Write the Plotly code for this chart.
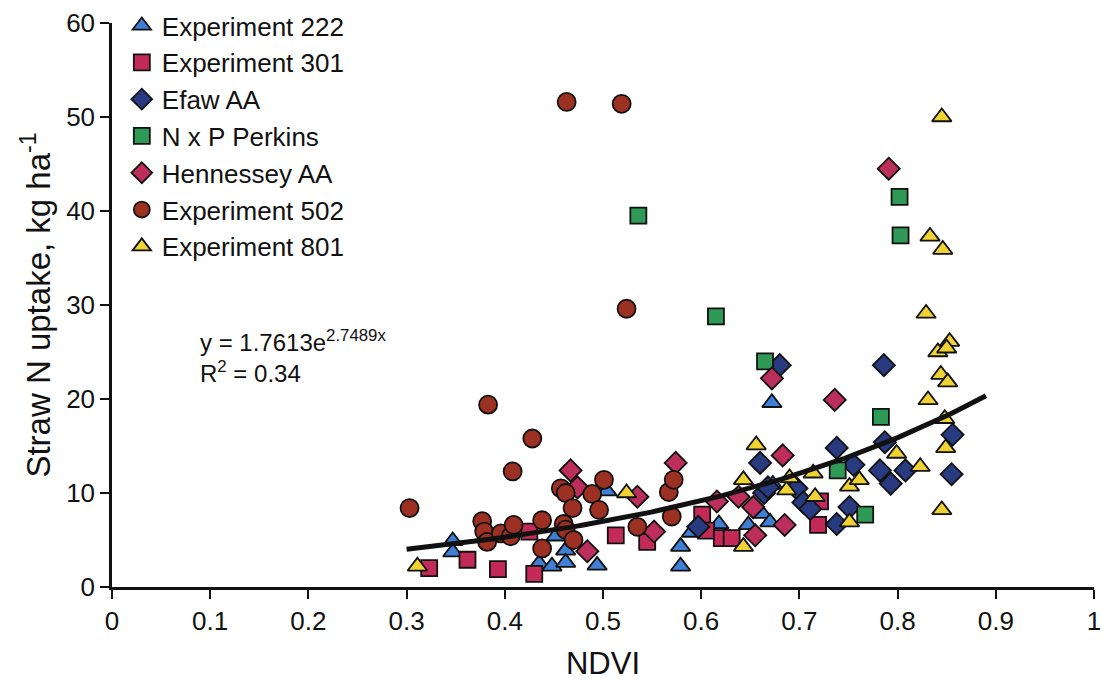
import numpy as np
import plotly.graph_objects as go

# NDVI vs straw N uptake (kg/ha) for each experiment
exp222_x = [0.347, 0.347, 0.435, 0.448, 0.452, 0.462, 0.462, 0.494, 0.504, 0.579, 0.579,
            0.590, 0.618, 0.648, 0.662, 0.670, 0.672, 0.673]
exp222_y = [4.9, 3.7, 2.5, 2.2, 5.4, 3.9, 2.6, 2.3, 10.2, 4.3, 2.2,
            5.8, 6.7, 6.6, 7.8, 6.9, 19.6, 10.9]

exp301_x = [0.323, 0.362, 0.393, 0.425, 0.430, 0.513, 0.545, 0.601, 0.605, 0.621, 0.631,
            0.719, 0.721]
exp301_y = [2.0, 2.9, 1.9, 5.9, 1.4, 5.5, 4.8, 7.7, 6.0, 5.2, 5.2,
            6.6, 9.1]

efaw_x = [0.597, 0.660, 0.664, 0.668, 0.680, 0.697, 0.704, 0.711, 0.738, 0.738, 0.751,
          0.755, 0.782, 0.786, 0.787, 0.793, 0.808, 0.855, 0.856]
efaw_y = [6.4, 13.2, 10.0, 10.6, 23.6, 10.5, 9.0, 8.3, 14.8, 6.7, 8.5,
          13.0, 12.4, 23.6, 15.4, 11.0, 12.4, 12.0, 16.2]

nxp_x = [0.536, 0.615, 0.665, 0.739, 0.767, 0.783, 0.802, 0.803]
nxp_y = [39.5, 28.8, 24.0, 12.4, 7.7, 18.1, 41.5, 37.4]

henn_x = [0.467, 0.474, 0.484, 0.535, 0.552, 0.574, 0.616, 0.638, 0.653, 0.655, 0.672,
          0.683, 0.685, 0.736, 0.791]
henn_y = [12.4, 10.6, 3.8, 9.6, 5.9, 13.2, 9.1, 9.6, 8.5, 5.5, 22.2,
          14.0, 6.6, 19.9, 44.5]

exp502_x = [0.303, 0.377, 0.379, 0.382, 0.383, 0.396, 0.406, 0.408, 0.409, 0.428, 0.438,
            0.438, 0.457, 0.462, 0.460, 0.462, 0.469, 0.470, 0.489, 0.496, 0.501, 0.463,
            0.519, 0.524, 0.535, 0.567, 0.572, 0.570]
exp502_y = [8.4, 7.0, 5.9, 4.8, 19.4, 5.7, 5.4, 12.3, 6.6, 15.8, 7.1,
            4.1, 10.5, 10.0, 6.7, 6.1, 8.4, 5.0, 9.9, 8.2, 11.4, 51.6,
            51.4, 29.6, 6.4, 10.1, 11.4, 7.5]

exp801_x = [0.311, 0.524, 0.643, 0.643, 0.656, 0.687, 0.690, 0.714, 0.716, 0.751, 0.751,
            0.761, 0.799, 0.823, 0.831, 0.829, 0.833, 0.846, 0.845, 0.853, 0.841, 0.850,
            0.844, 0.851, 0.848, 0.849, 0.845]
exp801_y = [2.2, 10.0, 4.3, 11.4, 15.1, 10.3, 11.6, 12.1, 9.6, 6.9, 10.7,
            11.4, 14.2, 12.8, 19.9, 29.1, 37.3, 35.9, 50.0, 26.1, 25.0, 25.4,
            22.6, 21.8, 17.9, 14.8, 8.2]

# exponential fit y = a * exp(b * NDVI)
fit_a = 1.7613
fit_b = 2.7489
fit_r2 = 0.34
fit_range = (0.30, 0.89)

x_ticks = [0, 0.1, 0.2, 0.3, 0.4, 0.5, 0.6, 0.7, 0.8, 0.9, 1]
x_tick_text = ["0", "0.1", "0.2", "0.3", "0.4", "0.5", "0.6", "0.7", "0.8", "0.9", "1"]
y_ticks = [0, 10, 20, 30, 40, 50, 60]

series = [
    ("Experiment 222", exp222_x, exp222_y, "triangle-up", "#3f7fd6", 17),
    ("Experiment 301", exp301_x, exp301_y, "square", "#c42a58", 16),
    ("Efaw AA", efaw_x, efaw_y, "diamond", "#283a80", 17),
    ("N x P Perkins", nxp_x, nxp_y, "square", "#2f9a55", 16),
    ("Hennessey AA", henn_x, henn_y, "diamond", "#bc2f5c", 17),
    ("Experiment 502", exp502_x, exp502_y, "circle", "#9c3022", 18),
    ("Experiment 801", exp801_x, exp801_y, "triangle-up", "#f0d232", 17),
]

FONT = "Liberation Sans, Arial, sans-serif"

fig = go.Figure()

for i, (name, xs, ys, sym, col, size) in enumerate(series):
    fig.add_trace(go.Scatter(
        x=xs, y=ys, mode="markers", name=name, legendgroup=f"g{i}",
        marker=dict(symbol=sym, color=col, size=size,
                    line=dict(color="#111111", width=1.8)),
    ))

fx = np.linspace(fit_range[0], fit_range[1], 120)
fy = fit_a * np.exp(fit_b * fx)
fig.add_trace(go.Scatter(x=fx, y=fy, mode="lines", showlegend=False,
                         line=dict(color="#111111", width=5)))

fig.add_annotation(
    x=0.088, y=24.5, xref="x", yref="y", xanchor="left", yanchor="middle",
    showarrow=False, align="left",
    text=f"y = {fit_a}e<sup>{fit_b}x</sup><br>R<sup>2</sup> = {fit_r2}",
    font=dict(family=FONT, size=24, color="#111111"),
)

fig.update_layout(
    width=1102, height=691,
    margin=dict(l=112, r=8, t=23, b=104, autoexpand=False),
    paper_bgcolor="white", plot_bgcolor="white",
    font=dict(family=FONT, size=25, color="#111111"),
    showlegend=True,
    legend=dict(
        x=0.010, y=1.037, xanchor="left", yanchor="top",
        bgcolor="rgba(0,0,0,0)", borderwidth=0,
        font=dict(family=FONT, size=26, color="#111111"),
        tracegroupgap=0, itemwidth=30,
    ),
    xaxis=dict(
        range=[0, 1], tickvals=x_ticks, ticktext=x_tick_text,
        showline=True, linecolor="#111111", linewidth=2.5,
        ticks="outside", ticklen=9, tickwidth=2, tickcolor="#111111",
        showgrid=False, zeroline=False,
        tickfont=dict(family=FONT, size=26),
        title=dict(text="NDVI", font=dict(family=FONT, size=31), standoff=18),
    ),
    yaxis=dict(
        range=[0, 60], tickvals=y_ticks,
        showline=True, linecolor="#111111", linewidth=2.5,
        ticks="outside", ticklen=9, tickwidth=2, tickcolor="#111111",
        showgrid=False, zeroline=False,
        tickfont=dict(family=FONT, size=26),
        title=dict(text="Straw N uptake, kg ha<sup>-1</sup>",
                   font=dict(family=FONT, size=33), standoff=6),
    ),
)

fig.write_html("out.html")
